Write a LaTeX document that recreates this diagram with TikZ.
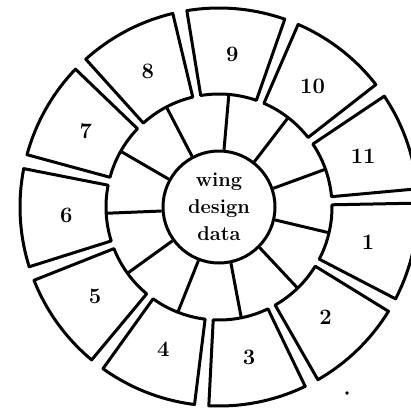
\documentclass[tikz,border=0pt]{standalone}
\usepackage{tikz}

\begin{document}
\begin{tikzpicture}[
    x=1pt, y=1pt,
    hub/.style={circle, draw, line width=3pt, minimum size=112pt, inner sep=0pt, align=center, font=\fontsize{20}{27}\selectfont\bfseries},
    segbox/.style={draw, line width=3pt, line join=round},
    spoke/.style={line width=3pt},
    num/.style={font=\fontsize{22}{26}\selectfont\bfseries},
]
\useasboundingbox (-219,-200) rectangle (192,207);

\node[hub] (hub) at (0,0) {wing\\design\\data};

% outer boxes, numbered clockwise from the right
\foreach \n [count=\k from 0] in {9,10,11,1,2,3,4,5,6,7,8} {
  \pgfmathsetmacro{\a}{85-\k*360/11}
  \draw[segbox] (\a-14.3:113) arc[start angle=\a-14.3, end angle=\a+14.3, radius=113]
    -- (\a+14.3:199) arc[start angle=\a+14.3, end angle=\a-14.3, radius=199] -- cycle;
  \node[num] (box\n) at (\a:153) {\n};
  \draw[spoke] (hub.\a) -- (\a:113);
}

\node[circle, fill, inner sep=1.4pt] (speck) at (128,-186) {};

\end{tikzpicture}
\end{document}
